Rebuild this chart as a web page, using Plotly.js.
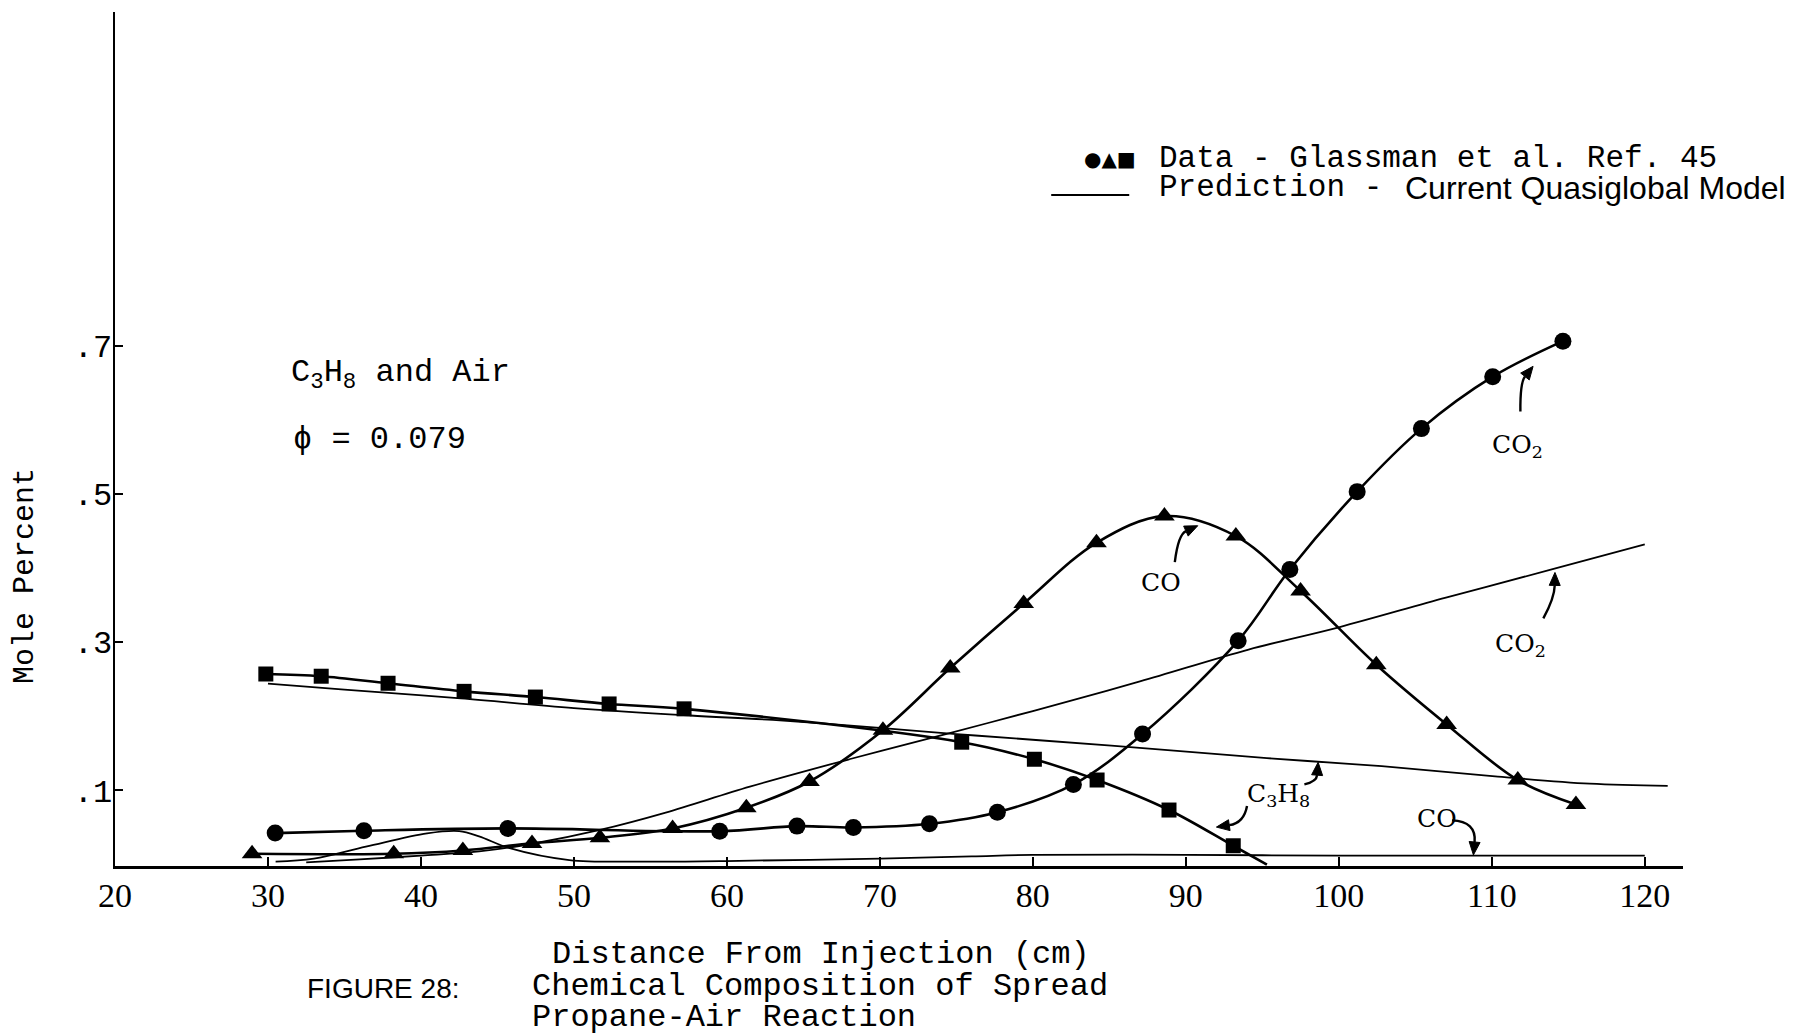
<!DOCTYPE html>
<html>
<head>
<meta charset="utf-8">
<script src="https://cdn.plot.ly/plotly-3.0.1.min.js"></script>
<style>
  html, body { margin: 0; padding: 0; background: #ffffff; }
  #chart { width: 1807px; height: 1035px; }
</style>
</head>
<body>
<div id="chart"></div>
<script>
// Axis ticks
const xTickVals = [20, 30, 40, 50, 60, 70, 80, 90, 100, 110, 120];
const xTickText = ['20', '30', '40', '50', '60', '70', '80', '90', '100', '110', '120'];
const yTickVals = [0.1, 0.3, 0.5, 0.7];
const yTickText = ['.1', '.3', '.5', '.7'];

// Measured data (Glassman et al.) — distance (cm) vs mole percent
const co2DataX = [30.47, 36.27, 45.68, 59.53, 64.58, 68.27, 73.24, 77.68, 82.65, 87.17, 93.42, 96.8, 101.2, 105.4, 110.06, 114.65];
const co2DataY = [0.0424, 0.0456, 0.0487, 0.045, 0.0518, 0.050, 0.0549, 0.0705, 0.108, 0.176, 0.302, 0.398, 0.503, 0.588, 0.658, 0.706];

const coDataX = [28.96, 38.22, 42.74, 47.26, 51.7, 56.45, 61.27, 65.4, 70.2, 74.6, 79.4, 84.16, 88.6, 93.27, 97.5, 102.45, 107.05, 111.7, 115.5];
const coDataY = [0.0145, 0.0145, 0.019, 0.0285, 0.036, 0.0487, 0.0766, 0.112, 0.181, 0.265, 0.352, 0.434, 0.470, 0.443, 0.369, 0.2695, 0.189, 0.114, 0.081];

const c3h8DataX = [29.86, 33.48, 37.85, 42.82, 47.48, 52.3, 57.2, 75.35, 80.1, 84.2, 88.9, 93.1];
const c3h8DataY = [0.257, 0.254, 0.2445, 0.2336, 0.2259, 0.2166, 0.210, 0.165, 0.142, 0.114, 0.0735, 0.0253];
// faired curve runs on past the last sample down to the axis
const c3h8TailX = [95.3];
const c3h8TailY = [0.0];

// Quasiglobal model predictions
const c3h8PredX = [30, 35, 42.6, 50, 57.6, 63, 70.2, 75, 80.2, 87.8, 95.3, 102.8, 110.4, 116.4, 121.5];
const c3h8PredY = [0.244, 0.236, 0.224, 0.211, 0.201, 0.195, 0.184, 0.176, 0.168, 0.156, 0.1435, 0.1326, 0.1186, 0.109, 0.106];

const co2PredX = [32.5, 36, 40, 43.8, 47.3, 51.7, 56, 61.5, 68, 74.5, 80, 87, 94.1, 100, 107, 114.1, 120];
const co2PredY = [0.003, 0.007, 0.012, 0.0176, 0.028, 0.0466, 0.07, 0.105, 0.142, 0.177, 0.207, 0.247, 0.29, 0.32, 0.36, 0.399, 0.432];

const coPredX = [30.5, 33, 36.4, 40.4, 42.5, 43.8, 45.8, 49.7, 55, 60.8, 70, 76, 80, 90, 100, 110, 120];
const coPredY = [0.004, 0.008, 0.024, 0.042, 0.045, 0.038, 0.022, 0.006, 0.004, 0.005, 0.008, 0.011, 0.013, 0.013, 0.012, 0.012, 0.012];

const ink = '#000000';
const mono = 'Liberation Mono, Courier New, monospace';
const serif = 'DejaVu Serif, Liberation Serif, serif';
const sans = 'Liberation Sans, Arial, sans-serif';

// plot frame (px) and axis ranges
const W = 1807, H = 1035;
const M = { l: 115, r: 124, t: 12, b: 169 };
const xRange = [20, 122.5];
const yRange = [-0.002, 1.15];
const plotW = W - M.l - M.r, plotH = H - M.t - M.b;
const toPx = (x) => M.l + (x - xRange[0]) / (xRange[1] - xRange[0]) * plotW;
const toPy = (y) => M.t + (yRange[1] - y) / (yRange[1] - yRange[0]) * plotH;
const fromPx = (p) => xRange[0] + (p - M.l) / plotW * (xRange[1] - xRange[0]);
const fromPy = (p) => yRange[1] - (p - M.t) / plotH * (yRange[1] - yRange[0]);

function predLine(x, y) {
  return { x: x, y: y, type: 'scatter', mode: 'lines',
           line: { color: ink, width: 1.8, shape: 'spline', smoothing: 1 },
           hoverinfo: 'skip', showlegend: false };
}

const traces = [
  predLine(c3h8PredX, c3h8PredY),
  predLine(co2PredX, co2PredY),
  predLine(coPredX, coPredY),
  { x: co2DataX, y: co2DataY, type: 'scatter', mode: 'lines+markers',
    line: { color: ink, width: 2.6, shape: 'spline', smoothing: 1 },
    marker: { symbol: 'circle', size: 17, color: ink }, showlegend: false },
  { x: coDataX, y: coDataY, type: 'scatter', mode: 'lines+markers',
    line: { color: ink, width: 2.6, shape: 'spline', smoothing: 1 },
    marker: { symbol: 'triangle-up', size: 18, color: ink }, showlegend: false },
  { x: c3h8DataX.concat(c3h8TailX), y: c3h8DataY.concat(c3h8TailY), type: 'scatter', mode: 'lines',
    line: { color: ink, width: 2.6, shape: 'spline', smoothing: 1 }, showlegend: false },
  { x: c3h8DataX, y: c3h8DataY, type: 'scatter', mode: 'markers',
    marker: { symbol: 'square', size: 15, color: ink }, showlegend: false }
];

// curved pointer from a label to a curve: quadratic stroke plus a filled head
function curvedArrow(tail, ctrl, head) {
  const T = [toPx(tail[0]), toPy(tail[1])];
  const C = [toPx(ctrl[0]), toPy(ctrl[1])];
  const Hd = [toPx(head[0]), toPy(head[1])];
  let dx = Hd[0] - C[0], dy = Hd[1] - C[1];
  const n = Math.hypot(dx, dy) || 1; dx /= n; dy /= n;
  const L = 13, hw = 5.5;
  const B = [Hd[0] - dx * L, Hd[1] - dy * L];
  const p1 = [B[0] - dy * hw, B[1] + dx * hw];
  const p2 = [B[0] + dy * hw, B[1] - dx * hw];
  const d = (p) => fromPx(p[0]) + ',' + fromPy(p[1]);
  return [
    { type: 'path', xref: 'x', yref: 'y',
      path: 'M ' + d(T) + ' Q ' + d(C) + ' ' + d(B),
      line: { color: ink, width: 2.4 }, fillcolor: 'rgba(0,0,0,0)' },
    { type: 'path', xref: 'x', yref: 'y',
      path: 'M ' + d(Hd) + ' L ' + d(p1) + ' L ' + d(p2) + ' Z',
      line: { color: ink, width: 1 }, fillcolor: ink }
  ];
}

const arrowShapes = [].concat(
  curvedArrow([111.87, 0.611], [111.85, 0.650], [112.7, 0.672]),   // CO2 data
  curvedArrow([89.28, 0.408], [89.5, 0.445], [90.78, 0.457]),      // CO data
  curvedArrow([113.37, 0.332], [114.1, 0.360], [114.13, 0.394]),   // CO2 prediction
  curvedArrow([97.75, 0.108], [98.55, 0.112], [98.65, 0.138]),     // C3H8 prediction
  curvedArrow([94.0, 0.079], [93.8, 0.056], [92.0, 0.0505]),       // C3H8 data
  curvedArrow([107.4, 0.0595], [109.0, 0.058], [108.8, 0.0129])    // CO prediction
);

function label(x, y, text, size) {
  return { x: x, y: y, xref: 'x', yref: 'y', text: text, showarrow: false,
           xanchor: 'center', yanchor: 'middle',
           font: { family: serif, size: size || 25, color: ink } };
}
function note(x, y, text, size, family, xanchor) {
  return { x: x, y: y, xref: 'paper', yref: 'paper', text: text, showarrow: false,
           xanchor: xanchor || 'left', yanchor: 'middle',
           font: { family: family || mono, size: size, color: ink } };
}

const annotations = [
  // species labels on the curves
  label(111.7, 0.564, 'CO<sub>2</sub>'),
  label(88.4, 0.381, 'CO'),
  label(111.9, 0.296, 'CO<sub>2</sub>'),
  label(96.05, 0.094, 'C<sub>3</sub>H<sub>8</sub>'),
  label(106.4, 0.0627, 'CO'),

  // mixture description
  { x: 31.36, y: 0.661, xref: 'x', yref: 'y', text: 'C<sub>3</sub>H<sub>8</sub> and Air',
    showarrow: false, xanchor: 'left', yanchor: 'middle', font: { family: mono, size: 32, color: ink } },
  { x: 31.5, y: 0.573, xref: 'x', yref: 'y', text: 'ϕ = 0.079',
    showarrow: false, xanchor: 'left', yanchor: 'middle', font: { family: mono, size: 32, color: ink } },

  // key
  { x: 83.2, y: 0.952, xref: 'x', yref: 'y', text: '●▲■', showarrow: false,
    xanchor: 'left', yanchor: 'middle', font: { family: 'DejaVu Sans', size: 20, color: ink } },
  { x: 88.1, y: 0.953, xref: 'x', yref: 'y', text: 'Data - Glassman et al. Ref. 45', showarrow: false,
    xanchor: 'left', yanchor: 'middle', font: { family: mono, size: 31, color: ink } },
  { x: 88.1, y: 0.913, xref: 'x', yref: 'y', text: 'Prediction -', showarrow: false,
    xanchor: 'left', yanchor: 'middle', font: { family: mono, size: 31, color: ink } },
  { x: 104.2, y: 0.913, xref: 'x', yref: 'y', text: 'Current Quasiglobal Model', showarrow: false,
    xanchor: 'left', yanchor: 'middle', font: { family: sans, size: 32, color: ink } },

  // axis titles and caption
  { x: -0.0574, y: 0.3396, xref: 'paper', yref: 'paper', text: 'Mole Percent', showarrow: false,
    textangle: -90, xanchor: 'center', yanchor: 'middle', font: { family: mono, size: 30, color: ink } },
  note(0.2772, -0.104, 'Distance From Injection (cm)', 32),
  note(0.1212, -0.1429, 'FIGURE 28:', 28, sans),
  note(0.2647, -0.1411, 'Chemical Composition of Spread', 32),
  note(0.2647, -0.1775, 'Propane-Air Reaction', 32)
];

const layout = {
  width: W,
  height: H,
  margin: { l: M.l, r: M.r, t: M.t, b: M.b, pad: 0 },
  paper_bgcolor: '#ffffff',
  plot_bgcolor: '#ffffff',
  showlegend: false,
  xaxis: {
    range: xRange,
    tickvals: xTickVals, ticktext: xTickText,
    ticks: 'inside', ticklen: 9, tickwidth: 2, tickcolor: ink,
    showline: true, linecolor: ink, linewidth: 2.5,
    showgrid: false, zeroline: false,
    tickfont: { family: 'Liberation Serif, serif', size: 34, color: ink },
    ticklabelstandoff: -2
  },
  yaxis: {
    range: yRange,
    tickvals: yTickVals, ticktext: yTickText,
    ticks: 'inside', ticklen: 8, tickwidth: 2, tickcolor: ink,
    showline: true, linecolor: ink, linewidth: 2.5,
    showgrid: false, zeroline: false,
    tickfont: { family: mono, size: 32, color: ink },
    ticklabelstandoff: -6
  },
  shapes: [
    { type: 'line', xref: 'x', yref: 'y', x0: 81.2, x1: 86.3, y0: 0.903, y1: 0.903,
      line: { color: ink, width: 2 } }
  ].concat(arrowShapes),
  annotations: annotations
};

Plotly.newPlot('chart', traces, layout, { staticPlot: true, displayModeBar: false });
</script>
</body>
</html>
